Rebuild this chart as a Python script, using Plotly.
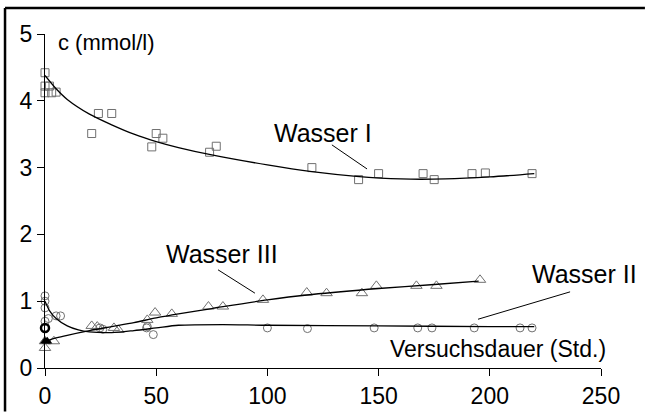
import plotly.graph_objects as go

# ---- data ----
w1_x = [0, 0, 2, 0, 3, 5, 21, 24, 30, 48, 50, 53, 74, 77, 120, 141, 150, 170, 175, 192, 198, 219]
w1_y = [4.42, 4.22, 4.22, 4.12, 4.12, 4.13, 3.51, 3.81, 3.81, 3.31, 3.51, 3.44, 3.23, 3.32, 3.0, 2.82, 2.91, 2.91, 2.82, 2.91, 2.92, 2.91]

w2_x = [0, 0, 0, 0, 1.5, 5, 7, 24.7, 26, 45.7, 46, 48.7, 100, 118, 148, 167.6, 174, 193, 213.6, 219]
w2_y = [1.08, 1.0, 0.9, 0.7, 0.74, 0.78, 0.78, 0.6, 0.58, 0.6, 0.62, 0.5, 0.6, 0.59, 0.6, 0.6, 0.6, 0.6, 0.6, 0.6]

w3_x = [0, 0, 4, 21, 23.5, 31, 33, 46, 49.5, 57, 73.5, 80, 98, 117.7, 126.6, 142.5, 149, 167, 176, 195.6]
w3_y = [0.3, 0.4, 0.4, 0.63, 0.62, 0.6, 0.57, 0.72, 0.83, 0.81, 0.92, 0.92, 1.02, 1.13, 1.12, 1.12, 1.23, 1.23, 1.23, 1.32]

bold_circle_x = [0]
bold_circle_y = [0.6]
bold_tri_x = [0, 1]
bold_tri_y = [0.4, 0.4]

fit1_x = [0, 5, 10, 20, 30, 40, 50, 60, 75, 100, 120, 140, 160, 180, 200, 220]
fit1_y = [4.38, 4.18, 4.02, 3.8, 3.64, 3.5, 3.39, 3.3, 3.19, 3.04, 2.94, 2.87, 2.83, 2.83, 2.86, 2.91]

fit2_x = [0, 2, 5, 10, 15, 20, 30, 40, 50, 60, 80, 100, 150, 200, 220]
fit2_y = [1.0, 0.86, 0.74, 0.63, 0.57, 0.54, 0.53, 0.56, 0.6, 0.64, 0.65, 0.64, 0.63, 0.62, 0.62]

fit3_x = [0, 5, 10, 20, 30, 40, 50, 60, 75, 100, 120, 150, 175, 195]
fit3_y = [0.4, 0.45, 0.49, 0.56, 0.62, 0.68, 0.75, 0.81, 0.89, 1.02, 1.1, 1.19, 1.25, 1.3]

x_ticks = [0, 50, 100, 150, 200, 250]
y_ticks = [0, 1, 2, 3, 4, 5]

FONT = "Liberation Sans, Arial, sans-serif"
MK = "#707070"

fig = go.Figure()

def markers(x, y, symbol, size, color=MK, width=1):
    fig.add_trace(go.Scatter(
        x=x, y=y, mode="markers", cliponaxis=False, showlegend=False,
        marker=dict(symbol=symbol, size=size, color=color,
                    line=dict(color=color, width=width))))

markers(w1_x, w1_y, "square-open", 8)
markers(w2_x, w2_y, "circle-open", 8)
markers(w3_x, w3_y, "triangle-up-open", 10)
markers(bold_circle_x, bold_circle_y, "circle-open", 8, "#000", 2.5)
fig.add_trace(go.Scatter(x=bold_tri_x, y=bold_tri_y, mode="markers", cliponaxis=False,
                         showlegend=False,
                         marker=dict(symbol="triangle-up", size=9, color="#000")))

for fx, fy in [(fit1_x, fit1_y), (fit2_x, fit2_y), (fit3_x, fit3_y)]:
    fig.add_trace(go.Scatter(x=fx, y=fy, mode="lines", showlegend=False, cliponaxis=False,
                             line=dict(color="#000", width=1.3, shape="spline", smoothing=0.8)))

ann_font = dict(family=FONT, size=25, color="#000")
annotations = [
    dict(x=125.2, y=3.52, text="Wasser I", font=ann_font),
    dict(x=79.8, y=1.71, text="Wasser III", font=ann_font),
    dict(x=242.4, y=1.40, text="Wasser II", font=ann_font),
    dict(x=27.7, y=4.87, text="c (mmol/l)", font=dict(family=FONT, size=22, color="#000")),
    dict(x=203.5, y=0.28, text="Versuchsdauer (Std.)", font=dict(family=FONT, size=23, color="#000")),
]
for a in annotations:
    a.update(xref="x", yref="y", showarrow=False, xanchor="center", yanchor="middle")

shapes = [
    dict(type="line", xref="x", yref="y", x0=129.0, y0=3.34, x1=144.8, y1=2.98, line=dict(color="#000", width=1)),
    dict(type="line", xref="x", yref="y", x0=77.8, y0=1.47, x1=94.4, y1=1.12, line=dict(color="#000", width=1)),
    dict(type="line", xref="x", yref="y", x0=236.1, y0=1.14, x1=194.7, y1=0.73, line=dict(color="#000", width=1)),
    # outer frame (left and top edges visible)
    dict(type="line", xref="paper", yref="paper", x0=-0.0719, y0=1.0778, x1=1.079, y1=1.0778, line=dict(color="#000", width=2.5)),
    dict(type="line", xref="paper", yref="paper", x0=-0.0719, y0=1.0778, x1=-0.0719, y1=-0.13, line=dict(color="#000", width=2.5)),
]

axis_common = dict(showline=True, linecolor="#000", linewidth=1.2, ticks="outside", ticklen=7,
                   tickcolor="#000", tickwidth=1, showgrid=False, zeroline=False, automargin=False,
                   tickfont=dict(family=FONT, size=23, color="#000"))

fig.update_layout(
    width=645, height=412,
    margin=dict(l=45, r=44, t=34, b=44),
    paper_bgcolor="white", plot_bgcolor="white",
    xaxis=dict(range=[0, 250], tickvals=x_ticks, **axis_common),
    yaxis=dict(range=[0, 5], tickvals=y_ticks, **axis_common),
    annotations=annotations,
    shapes=shapes,
)

fig.write_html("out.html", config={"displayModeBar": False},
               post_script=("document.body.style.margin='0';document.body.style.overflow='hidden';"
                            "document.documentElement.style.overflow='hidden';"))
